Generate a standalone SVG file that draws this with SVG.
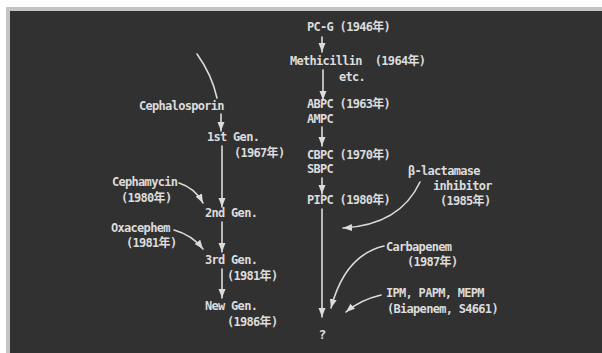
<svg xmlns="http://www.w3.org/2000/svg" width="602" height="353" viewBox="0 0 602 353">
<style>
  text { font-family: "DejaVu Sans Mono", "Liberation Mono", "Noto Sans CJK JP", monospace; font-size: 12px; letter-spacing: -0.7px; font-weight: bold; fill: #dcdcdc; white-space: pre; }
  .c { fill: none; stroke: #dcdcdc; stroke-width: 1.6; stroke-linecap: round; }
</style>
<defs>
  <marker id="ah" markerUnits="userSpaceOnUse" markerWidth="10" markerHeight="8" refX="9" refY="4" orient="auto">
    <path d="M0,0.5 L9,4 L0,7.5 z" fill="#dcdcdc"/>
  </marker>
</defs>
<rect x="0" y="0" width="602" height="353" fill="#ffffff"/>
<rect x="6" y="7" width="596" height="346" fill="#c4c4c4"/>
<rect x="10" y="11" width="592" height="342" fill="#313131"/>

<g id="connectors">
  <path class="c" d="M322,37 L322,52" marker-end="url(#ah)"/>
  <path class="c" d="M323,70 L323,100" marker-end="url(#ah)"/>
  <path class="c" d="M322,127 L322,146" marker-end="url(#ah)"/>
  <path class="c" d="M322,178 L322,194" marker-end="url(#ah)"/>
  <path class="c" d="M322,209 L322,317" marker-end="url(#ah)"/>
  <path class="c" d="M420,182 Q400,225 343,228" marker-end="url(#ah)"/>
  <path class="c" d="M384,246 Q345,255 331,308" marker-end="url(#ah)"/>
  <path class="c" d="M381,295 Q360,300 346,312" marker-end="url(#ah)"/>
  <path class="c" d="M197,54 Q212,75 217,98"/>
  <path class="c" d="M221,114 L221,131" marker-end="url(#ah)"/>
  <path class="c" d="M222,146 L222,207" marker-end="url(#ah)"/>
  <path class="c" d="M179,183 Q195,188 203,203" marker-end="url(#ah)"/>
  <path class="c" d="M222,222 L222,252" marker-end="url(#ah)"/>
  <path class="c" d="M174,230 Q192,235 203,249" marker-end="url(#ah)"/>
  <path class="c" d="M222,269 L222,298" marker-end="url(#ah)"/>
</g>

<g id="pcg"><text x="307" y="31">PC-G (1946年)</text></g>
<g id="methicillin"><text x="290" y="65">Methicillin  (1964年)</text><text x="339" y="81">etc.</text></g>
<g id="abpc"><text x="307" y="108">ABPC (1963年)</text><text x="307" y="123">AMPC</text></g>
<g id="cbpc"><text x="307" y="159">CBPC (1970年)</text><text x="307" y="173">SBPC</text></g>
<g id="pipc"><text x="307" y="204">PIPC (1980年)</text></g>
<g id="question"><text x="322" y="339" text-anchor="middle" style="font-size:13px">?</text></g>
<g id="blactamase"><text x="408" y="175">β-lactamase</text><text x="433" y="190">inhibitor</text><text x="440" y="205">(1985年)</text></g>
<g id="carbapenem"><text x="386" y="251">Carbapenem</text><text x="407" y="266">(1987年)</text></g>
<g id="ipm"><text x="386" y="297">IPM, PAPM, MEPM</text><text x="387" y="313">(Biapenem, S4661)</text></g>
<g id="cephalosporin"><text x="139" y="110">Cephalosporin</text></g>
<g id="gen1"><text x="207" y="141">1st Gen.</text><text x="234" y="157">(1967年)</text></g>
<g id="cephamycin"><text x="112" y="186">Cephamycin</text><text x="121" y="202">(1980年)</text></g>
<g id="gen2"><text x="205" y="217">2nd Gen.</text></g>
<g id="oxacephem"><text x="111" y="232">Oxacephem</text><text x="126" y="247">(1981年)</text></g>
<g id="gen3"><text x="205" y="264">3rd Gen.</text><text x="227" y="280">(1981年)</text></g>
<g id="newgen"><text x="205" y="310">New Gen.</text><text x="227" y="326">(1986年)</text></g>
</svg>
